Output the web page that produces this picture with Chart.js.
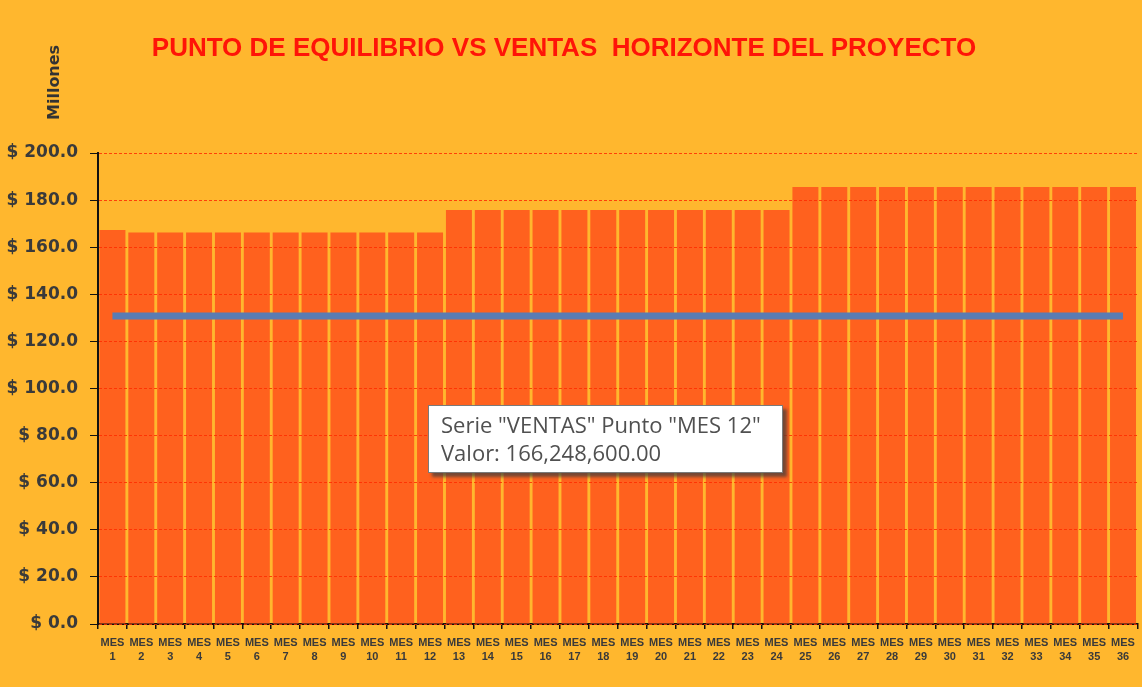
<!DOCTYPE html>
<html>
<head>
<meta charset="utf-8">
<script src="https://cdn.jsdelivr.net/npm/chart.js@4/dist/chart.umd.min.js"></script>
<style>
  html, body { margin: 0; padding: 0; background: #FFB72E; }
  #wrap { position: relative; width: 1142px; height: 687px; }
  #title {
    position: absolute; left: 0; width: 1128px; top: 32px; text-align: center;
    font: bold 26px "Liberation Sans", Arial, sans-serif; color: #FF1408; white-space: pre;
  }
  #units {
    position: absolute; left: 44px; top: 120px; transform-origin: 0 0; transform: rotate(-90deg);
    font: bold 16px "DejaVu Sans", sans-serif; color: #333; line-height: 19px; white-space: nowrap;
  }
  #tip {
    position: absolute; left: 428px; top: 405px; width: 355px; height: 68px;
    background: #fff; border: 1px solid #7a7a7a; box-shadow: 4px 4px 3px rgba(60,60,60,0.7);
    font: 22px "Open Sans", "Noto Sans", sans-serif; color: #505050; line-height: 28px;
    padding: 4px 0 0 12px; box-sizing: border-box; white-space: nowrap;
  }
</style>
</head>
<body>
<div id="wrap">
  <canvas id="chart" width="1142" height="687"></canvas>
  <div id="title">PUNTO DE EQUILIBRIO VS VENTAS  HORIZONTE DEL PROYECTO</div>
  <div id="units">Millones</div>
  <div id="tip">Serie "VENTAS" Punto "MES 12"<br>Valor: 166,248,600.00</div>
</div>
<script>
// months of the project horizon
const meses = ['1','2','3','4','5','6','7','8','9','10','11','12','13','14','15','16','17','18',
               '19','20','21','22','23','24','25','26','27','28','29','30','31','32','33','34','35','36'];

// ventas por mes, millones
const ventas = [167.3, 166.25, 166.25, 166.25, 166.25, 166.25, 166.25, 166.25, 166.25, 166.25, 166.25, 166.25,
                175.8, 175.8, 175.8, 175.8, 175.8, 175.8, 175.8, 175.8, 175.8, 175.8, 175.8, 175.8,
                185.6, 185.6, 185.6, 185.6, 185.6, 185.6, 185.6, 185.6, 185.6, 185.6, 185.6, 185.6];

// punto de equilibrio, millones
const equilibrio = [130.8, 130.8, 130.8, 130.8, 130.8, 130.8, 130.8, 130.8, 130.8, 130.8, 130.8, 130.8,
                    130.8, 130.8, 130.8, 130.8, 130.8, 130.8, 130.8, 130.8, 130.8, 130.8, 130.8, 130.8,
                    130.8, 130.8, 130.8, 130.8, 130.8, 130.8, 130.8, 130.8, 130.8, 130.8, 130.8, 130.8];

const yTicks = [0, 20, 40, 60, 80, 100, 120, 140, 160, 180, 200];

const ctx = document.getElementById('chart');

new Chart(ctx, {
  data: {
    labels: meses.map(m => ['MES', m]),
    datasets: [
      {
        type: 'line',
        label: 'PUNTO DE EQUILIBRIO',
        data: equilibrio,
        borderColor: '#5A7CB3',
        borderWidth: 7,
        pointRadius: 0,
        order: 0
      },
      {
        type: 'bar',
        label: 'VENTAS',
        data: ventas,
        backgroundColor: '#FF611E',
        barPercentage: 0.9,
        categoryPercentage: 1,
        order: 1
      }
    ]
  },
  options: {
    responsive: false,
    animation: false,
    layout: { padding: { top: 153, right: 4, left: 0, bottom: 0 } },
    plugins: {
      legend: { display: false },
      tooltip: { enabled: false }
    },
    scales: {
      x: {
        afterFit: s => { s.height = 63; },
        grid: { drawOnChartArea: false, drawTicks: true, tickLength: 5, color: '#111', lineWidth: 1.5 },
        border: { color: '#111', width: 2 },
        ticks: {
          autoSkip: false, maxRotation: 0, padding: 7,
          color: '#3a3a3a',
          font: { family: 'Liberation Sans', size: 11, weight: 'bold', lineHeight: 1.3 }
        }
      },
      y: {
        min: 0,
        max: 200,
        afterFit: s => { s.width = 98; },
        afterBuildTicks: s => { s.ticks = yTicks.map(v => ({ value: v })); },
        // grid above the bars, border drawn after the grid so its position is known
        grid: { z: 1, color: 'rgba(255,45,0,0.85)', tickColor: '#111', tickLength: 8, lineWidth: 1 },
        border: { z: 2, color: '#111', width: 2, dash: [3, 2] },
        ticks: {
          padding: 12,
          color: '#3a3a3a',
          font: { family: 'DejaVu Sans', size: 17, weight: 'bold' },
          callback: v => '$ ' + v.toFixed(1)
        }
      }
    }
  }
});
</script>
</body>
</html>
